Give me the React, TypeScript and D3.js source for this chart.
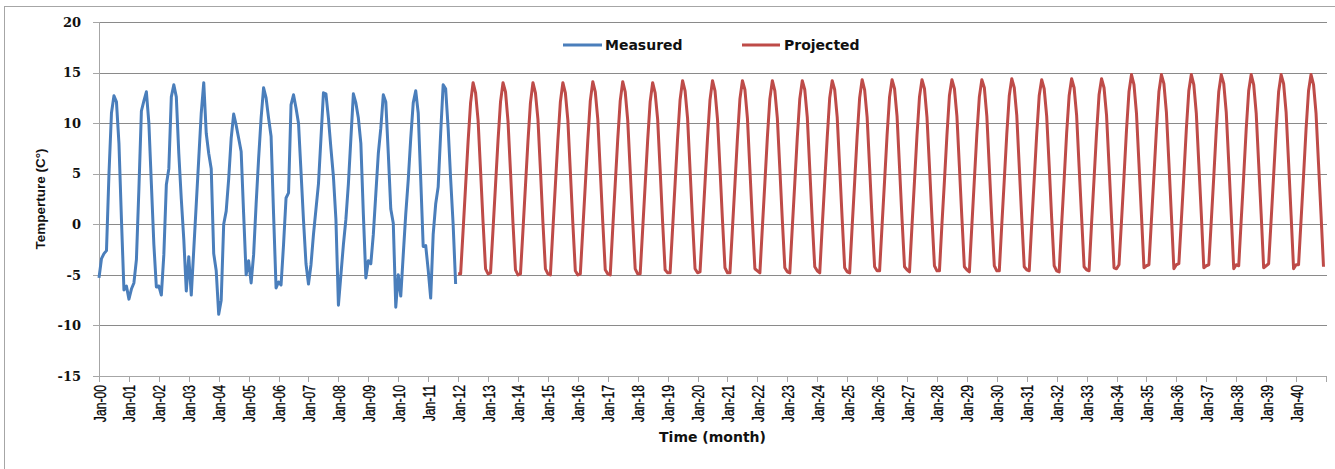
import * as d3 from "d3";

// monthly mean temperature, Jan-00 .. Dec-11
const measured: number[] = [
  -5.3, -3.4, -2.9, -2.6, 5.0, 11.0, 12.7, 12.1, 8.0, 0.5, -6.5, -6.1, // 2000
  -7.4, -6.4, -5.8, -3.5, 3.5, 11.2, 12.2, 13.1, 10.0, 4.0, -2.0, -6.2, // 2001
  -6.1, -7.0, -3.0, 3.9, 5.5, 12.6, 13.8, 12.6, 7.0, 2.5, -1.5, -6.6, // 2002
  -3.2, -7.0, -2.5, 2.0, 6.5, 11.0, 14.0, 9.0, 7.0, 5.5, -2.9, -4.6, // 2003
  -8.9, -7.5, 0.0, 1.3, 4.5, 8.5, 10.9, 9.8, 8.5, 7.2, 1.0, -5.0, // 2004
  -3.6, -5.8, -3.0, 2.0, 6.5, 10.5, 13.5, 12.5, 10.5, 8.7, 1.0, -6.3, // 2005
  -5.7, -6.0, -2.0, 2.6, 3.1, 11.8, 12.8, 11.5, 10.0, 5.2, 0.4, -3.9, // 2006
  -5.9, -4.0, -1.0, 1.5, 4.0, 8.5, 13.0, 12.9, 10.5, 7.5, 4.7, 0.5, // 2007
  -8.0, -5.0, -2.0, 0.5, 4.0, 8.5, 12.9, 12.0, 10.5, 8.0, 1.0, -5.3, // 2008
  -3.6, -3.9, -1.0, 3.0, 7.0, 9.5, 12.8, 12.1, 7.0, 1.5, 0.1, -8.2, // 2009
  -5.0, -7.1, -3.0, 1.0, 4.4, 8.5, 12.0, 13.2, 11.0, 4.5, -2.2, -2.1, // 2010
  -4.5, -7.3, -1.0, 2.0, 3.7, 9.0, 13.8, 13.4, 9.5, 4.5, 0.0, -5.9, // 2011
];

// projected monthly temperature, Jan-12 .. Dec-40
const projected: number[] = [
  -4.9, -4.9, -0.6, 3.8, 8.2, 12.0, 14.0, 13.0, 10.3, 5.3, 0.2, -4.4, // 2012
  -4.9, -4.8, -0.5, 3.9, 8.3, 12.1, 14.0, 13.1, 10.2, 5.2, 0.1, -4.5, // 2013
  -5.0, -4.9, -0.6, 3.8, 8.2, 12.0, 14.0, 13.0, 10.4, 5.4, 0.2, -4.4, // 2014
  -4.9, -5.0, -0.5, 3.9, 8.3, 12.1, 14.0, 13.0, 10.3, 5.2, 0.1, -4.6, // 2015
  -5.0, -4.9, -0.5, 3.9, 8.3, 12.2, 14.1, 13.1, 10.4, 5.3, 0.2, -4.5, // 2016
  -4.9, -5.0, -0.4, 4.0, 8.4, 12.2, 14.1, 13.1, 10.3, 5.3, 0.3, -4.4, // 2017
  -4.9, -4.9, -0.5, 3.9, 8.3, 12.1, 14.0, 13.0, 10.4, 5.4, 0.2, -4.5, // 2018
  -4.8, -4.8, -0.4, 4.0, 8.5, 12.3, 14.2, 13.2, 10.5, 5.4, 0.3, -4.4, // 2019
  -4.8, -4.7, -0.3, 4.1, 8.5, 12.3, 14.2, 13.2, 10.4, 5.5, 0.4, -4.3, // 2020
  -4.8, -4.8, -0.4, 4.0, 8.5, 12.4, 14.2, 13.3, 10.5, 5.4, 0.3, -4.4, // 2021
  -4.6, -4.8, -0.3, 4.1, 8.6, 12.4, 14.2, 13.2, 10.5, 5.5, 0.4, -4.3, // 2022
  -4.7, -4.8, -0.3, 4.1, 8.6, 12.4, 14.2, 13.3, 10.6, 5.5, 0.4, -4.2, // 2023
  -4.6, -4.8, -0.2, 4.2, 8.6, 12.5, 14.2, 13.3, 10.6, 5.6, 0.5, -4.3, // 2024
  -4.7, -4.8, -0.2, 4.2, 8.7, 12.5, 14.3, 13.3, 10.6, 5.6, 0.5, -4.2, // 2025
  -4.6, -4.6, -0.1, 4.3, 8.8, 12.6, 14.3, 13.4, 10.7, 5.6, 0.5, -4.2, // 2026
  -4.5, -4.7, -0.1, 4.3, 8.8, 12.6, 14.3, 13.4, 10.6, 5.7, 0.6, -4.1, // 2027
  -4.6, -4.6, 0.0, 4.3, 8.8, 12.7, 14.3, 13.4, 10.7, 5.7, 0.6, -4.2, // 2028
  -4.5, -4.7, -0.1, 4.4, 8.9, 12.6, 14.3, 13.5, 10.7, 5.6, 0.5, -4.1, // 2029
  -4.6, -4.6, 0.0, 4.4, 8.9, 12.7, 14.4, 13.5, 10.8, 5.7, 0.6, -4.2, // 2030
  -4.5, -4.6, 0.0, 4.4, 8.9, 12.7, 14.3, 13.4, 10.7, 5.8, 0.6, -4.1, // 2031
  -4.6, -4.7, 0.0, 4.4, 9.0, 12.7, 14.4, 13.5, 10.8, 5.7, 0.7, -4.2, // 2032
  -4.5, -4.6, 0.1, 4.5, 9.0, 12.8, 14.4, 13.5, 10.8, 5.8, 0.7, -4.3, // 2033
  -4.4, -4.0, 0.3, 4.7, 9.3, 13.1, 14.8, 13.8, 11.0, 6.0, 0.9, -4.3, // 2034
  -4.1, -4.0, 0.4, 4.8, 9.3, 13.1, 14.8, 13.9, 11.1, 6.1, 0.9, -4.4, // 2035
  -4.0, -3.9, 0.4, 4.8, 9.4, 13.2, 14.8, 13.8, 11.0, 6.0, 1.0, -4.3, // 2036
  -4.1, -4.0, 0.3, 4.7, 9.3, 13.1, 14.8, 13.9, 11.1, 6.1, 0.9, -4.4, // 2037
  -4.0, -4.1, 0.4, 4.8, 9.4, 13.2, 14.8, 13.8, 11.0, 6.0, 1.0, -4.3, // 2038
  -4.1, -3.9, 0.4, 4.8, 9.3, 13.1, 14.8, 13.9, 11.1, 6.1, 0.9, -4.4, // 2039
  -4.0, -4.0, 0.4, 4.8, 9.4, 13.2, 14.8, 13.8, 11.0, 6.0, 1.0, -4.2, // 2040
];

const yearLabels = [
  "Jan-00", "Jan-01", "Jan-02", "Jan-03", "Jan-04", "Jan-05", "Jan-06",
  "Jan-07", "Jan-08", "Jan-09", "Jan-10", "Jan-11", "Jan-12", "Jan-13",
  "Jan-14", "Jan-15", "Jan-16", "Jan-17", "Jan-18", "Jan-19", "Jan-20",
  "Jan-21", "Jan-22", "Jan-23", "Jan-24", "Jan-25", "Jan-26", "Jan-27",
  "Jan-28", "Jan-29", "Jan-30", "Jan-31", "Jan-32", "Jan-33", "Jan-34",
  "Jan-35", "Jan-36", "Jan-37", "Jan-38", "Jan-39", "Jan-40",
];

const yTicks = [-15, -10, -5, 0, 5, 10, 15, 20];

const W = 1335;
const H = 469;
const plot = { left: 99, right: 1326, top: 22, bottom: 376 };
const BLUE = "#4a7ebb";
const RED = "#be4b48";
const totalMonths = 492;

export default function App() {
  const x = d3.scaleLinear().domain([0, totalMonths]).range([plot.left, plot.right]);
  const y = d3.scaleLinear().domain([-15, 20]).range([plot.bottom, plot.top]);

  const measuredPath = d3
    .line<number>()
    .x((_, i) => x(i))
    .y((d) => y(d))(measured);
  const projectedPath = d3
    .line<number>()
    .x((_, i) => x(i + measured.length))
    .y((d) => y(d))(projected);

  const tickX = yearLabels.map((_, k) => x(k * 12));
  const numFont = "'DejaVu Serif', serif";
  const titleFont = "'DejaVu Sans', sans-serif";

  return (
    <svg
      width={W}
      height={H}
      style={{ position: "absolute", left: 0, top: 0, background: "#fff" }}
    >
      <rect x={4.5} y={6.5} width={W + 10} height={H + 10} fill="#fff" stroke="#a6a6a6" />

      {/* gridlines */}
      {yTicks.map((t) => (
        <line
          key={t}
          x1={plot.left}
          x2={plot.right + 1}
          y1={Math.round(y(t)) + 0.5}
          y2={Math.round(y(t)) + 0.5}
          stroke={t === -15 ? "#a6a6a6" : "#8a8a8a"}
        />
      ))}

      {/* y axis */}
      <line x1={plot.left + 0.5} x2={plot.left + 0.5} y1={plot.top} y2={plot.bottom + 1} stroke="#a6a6a6" />
      {yTicks.map((t) => (
        <g key={"yt" + t}>
          <line
            x1={plot.left - 6}
            x2={plot.left}
            y1={Math.round(y(t)) + 0.5}
            y2={Math.round(y(t)) + 0.5}
            stroke="#a6a6a6"
          />
          <text
            x={81}
            y={y(t)}
            dy="0.36em"
            textAnchor="end"
            fontFamily={numFont}
            fontWeight="bold"
            fontSize={13}
            fill="#111"
          >
            {t}
          </text>
        </g>
      ))}

      {/* x axis ticks and labels */}
      {tickX.map((tx, k) => (
        <g key={"xt" + k}>
          <line
            x1={Math.round(tx) + 0.5}
            x2={Math.round(tx) + 0.5}
            y1={plot.bottom}
            y2={plot.bottom + 6}
            stroke="#a6a6a6"
          />
          <text
            transform={`translate(${tx + 6.5},385) rotate(-90) scale(0.76,1)`}
            textAnchor="end"
            fontFamily="'Liberation Sans', Arial, sans-serif"
            fontSize={16}
            fill="#000"
            stroke="#000"
            strokeWidth={0.3}
          >
            {yearLabels[k]}
          </text>
        </g>
      ))}
      <line
        x1={Math.round(x(totalMonths)) + 0.5}
        x2={Math.round(x(totalMonths)) + 0.5}
        y1={plot.bottom}
        y2={plot.bottom + 6}
        stroke="#a6a6a6"
      />

      {/* series */}
      <path d={measuredPath ?? ""} fill="none" stroke={BLUE} strokeWidth={3} strokeLinejoin="round" />
      <path d={projectedPath ?? ""} fill="none" stroke={RED} strokeWidth={3} strokeLinejoin="round" />

      {/* legend */}
      <line x1={563} x2={602} y1={45} y2={45} stroke={BLUE} strokeWidth={3} />
      <text x={605} y={50} fontFamily={titleFont} fontWeight="bold" fontSize={14} fill="#111">
        Measured
      </text>
      <line x1={742} x2={780} y1={45} y2={45} stroke={RED} strokeWidth={3} />
      <text x={784} y={50} fontFamily={titleFont} fontWeight="bold" fontSize={14} fill="#111">
        Projected
      </text>

      {/* axis titles */}
      <text
        x={(plot.left + plot.right) / 2}
        y={442}
        textAnchor="middle"
        fontFamily={titleFont}
        fontWeight="bold"
        fontSize={14}
        fill="#111"
      >
        Time (month)
      </text>
      <text
        transform={`translate(45,${(plot.top + plot.bottom) / 2}) rotate(-90)`}
        textAnchor="middle"
        fontFamily="'Liberation Sans', Arial, sans-serif"
        fontWeight="bold"
        fontSize={13.5}
        fill="#111"
      >
        Temperture (C°)
      </text>
    </svg>
  );
}
